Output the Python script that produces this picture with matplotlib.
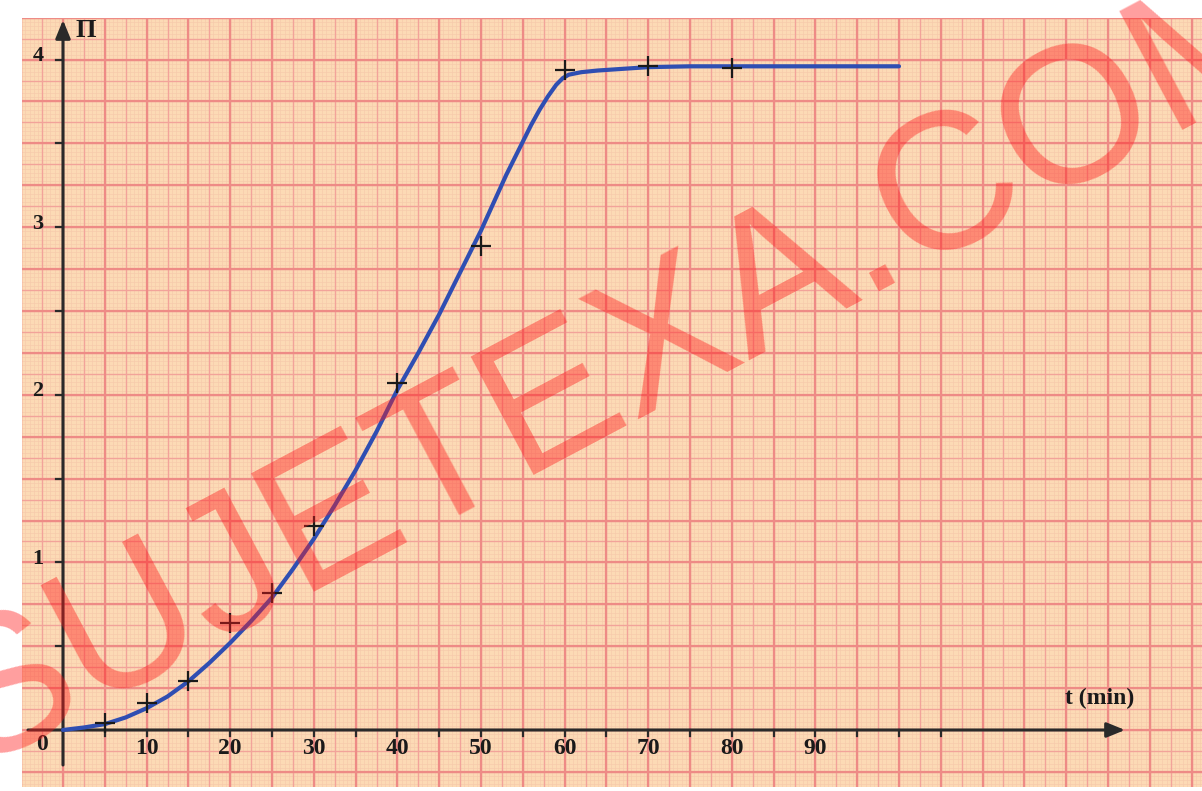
import numpy as np
import matplotlib
matplotlib.use("Agg")
import matplotlib.pyplot as plt

# ---- data ----
t_meas = [5, 10, 15, 20, 25, 30, 40, 50, 60, 70, 80]
p_meas = [0.04, 0.16, 0.29, 0.64, 0.82, 1.22, 2.07, 2.89, 3.94, 3.96, 3.95]

t_curve = [0, 2.5, 5, 7.5, 10, 12.5, 15, 17.5, 20, 22.5, 25, 27.5, 30, 32.5, 35,
           37.5, 40, 42.5, 45, 47.5, 50, 51, 52, 53, 54, 55, 56, 57, 58, 59,
           59.8, 60.5, 62, 64, 67, 70, 75, 80, 90, 100]
p_curve = [0.0, 0.015, 0.035, 0.075, 0.13, 0.20, 0.29, 0.40, 0.52, 0.65, 0.79,
           0.96, 1.14, 1.34, 1.55, 1.78, 2.03, 2.25, 2.48, 2.73, 2.98, 3.09, 3.20,
           3.31, 3.41, 3.51, 3.61, 3.70, 3.78, 3.85, 3.89, 3.91, 3.925, 3.935,
           3.945, 3.955, 3.96, 3.96, 3.96, 3.96]

x_labels = ["10", "20", "30", "40", "50", "60", "70", "80", "90"]
x_label_pos = [10, 20, 30, 40, 50, 60, 70, 80, 90]
y_labels = ["1", "2", "3", "4"]
y_label_pos = [1, 2, 3, 4]

# ---- figure ----
W, H = 1202, 791
fig = plt.figure(figsize=(W / 100, H / 100), dpi=100)
fig.patch.set_facecolor("white")

# paper region in pixels
px0, px1, py0, py1 = 22, 1202, 18, 787
ax = fig.add_axes([px0 / W, 1 - py1 / H, (px1 - px0) / W, (py1 - py0) / H])

# pixel -> data mapping
x_org, x_scale = 63, 8.36
y_org, y_scale = 730, 167.6
def dx(p): return (p - x_org) / x_scale
def dy(q): return (y_org - q) / y_scale

xmin, xmax = dx(px0), dx(px1)
ymin, ymax = dy(py1), dy(py0)
ax.set_xlim(xmin, xmax)
ax.set_ylim(ymin, ymax)
ax.set_facecolor("#fcdab5")
for s in ax.spines.values():
    s.set_visible(False)
ax.set_xticks([])
ax.set_yticks([])

# graph-paper grid
def grid_lines(step, color, lw, z):
    k0 = int(np.floor(xmin / step)) - 1
    k1 = int(np.ceil(xmax / step)) + 1
    for k in range(k0, k1 + 1):
        ax.axvline(k * step, color=color, lw=lw, zorder=z)
    k0 = int(np.floor(ymin / (step / 20))) - 1
    k1 = int(np.ceil(ymax / (step / 20))) + 1
    for k in range(k0, k1 + 1):
        ax.axhline(k * step / 20, color=color, lw=lw, zorder=z)

grid_lines(0.5, "#f6c9ab", 0.45, 0.5)
grid_lines(2.5, "#f2a39a", 1.0, 0.6)
grid_lines(5.0, "#ee8b86", 1.6, 0.7)

# axes with arrows
axis_col = "#2a2a2a"
ax.annotate("", xy=(dx(1125), 0), xytext=(dx(28), 0),
            arrowprops=dict(arrowstyle="-|>,head_length=1.1,head_width=0.45",
                            color=axis_col, lw=2.2, shrinkA=0, shrinkB=0), zorder=3)
ax.annotate("", xy=(0, dy(20)), xytext=(0, dy(765)),
            arrowprops=dict(arrowstyle="-|>,head_length=1.1,head_width=0.45",
                            color=axis_col, lw=2.2, shrinkA=0, shrinkB=0), zorder=3)

# ticks
for t in np.arange(5, 106, 5):
    ax.plot([t, t], [0, -0.035], color=axis_col, lw=1.6, zorder=3)
for v in np.arange(0.5, 4.01, 0.5):
    ax.plot([0, -0.8], [v, v], color=axis_col, lw=1.6, zorder=3)

lab_font = dict(family="Liberation Serif", fontweight="bold", color="#1a1a1a")
for pos, lab in zip(x_label_pos, x_labels):
    ax.text(pos, dy(749), lab, ha="center", va="center", fontsize=17, zorder=4, **lab_font)
ax.text(dx(42), dy(745), "0", ha="center", va="center", fontsize=17, zorder=4, **lab_font)
for pos, lab in zip(y_label_pos, y_labels):
    ax.text(dx(38), pos + 0.02, lab, ha="center", va="center", fontsize=16, zorder=4, **lab_font)
ax.text(dx(75), dy(31), "Π", ha="left", va="center", fontsize=19, zorder=4, **lab_font)
ax.text(dx(1100), dy(698), "t (min)", ha="center", va="center", fontsize=17, zorder=4, **lab_font)

# curve and measurements
ax.plot(t_curve, p_curve, color="#2f4eb2", lw=3.0, solid_capstyle="round",
        solid_joinstyle="round", zorder=5)
ax.plot(t_meas, p_meas, linestyle="none", marker="+", markersize=15,
        markeredgewidth=1.6, color="#1a1a1a", zorder=6)

# watermark
fig.text(0.515, 0.535, "SUJETEXA.COM", rotation=28, rotation_mode="anchor",
         ha="center", va="center", fontsize=140, family="Liberation Sans",
         color=(1.0, 0.1, 0.1, 0.42), zorder=10)

fig.savefig("out.png", dpi=100, facecolor="white")
